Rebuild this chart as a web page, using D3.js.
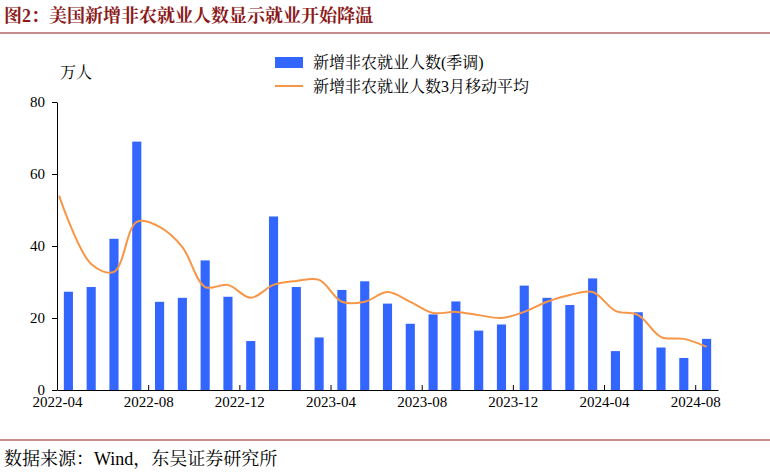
<!DOCTYPE html>
<html><head><meta charset="utf-8">
<script src="https://cdn.jsdelivr.net/npm/d3@7"></script>
<style>body{margin:0;background:#fff}text{font-family:"Liberation Serif","Noto Serif CJK SC","Noto Sans CJK SC",serif}</style>
</head><body><svg id="c" width="770" height="474"></svg>
<script>
var months = ["2022-04","2022-05","2022-06","2022-07","2022-08","2022-09","2022-10","2022-11","2022-12","2023-01","2023-02","2023-03","2023-04","2023-05","2023-06","2023-07","2023-08","2023-09","2023-10","2023-11","2023-12","2024-01","2024-02","2024-03","2024-04","2024-05","2024-06","2024-07","2024-08"];
var payrolls = [27.3,28.6,42,69,24.5,25.6,36,25.9,13.6,48.2,28.6,14.6,27.8,30.2,24,18.4,21,24.6,16.5,18.2,29,25.6,23.6,31,10.8,21.6,11.8,8.9,14.2];
var avg3 = [54,35,32.8,46.7,45.3,39.7,28.6,29.2,25.6,29.2,30.3,30.6,24.5,24.5,27.2,24.5,21.4,21.7,20.8,20,21.7,24.5,26.4,27.2,22,20.8,14.7,14.2,12];
var yTicks = [0,20,40,60,80];
var xTickLabels = ["2022-04","2022-08","2022-12","2023-04","2023-08","2023-12","2024-04","2024-08"];

var svg = d3.select("#c");
var x = d3.scaleBand().domain(months).range([57,718]).paddingInner(0.6).paddingOuter(0.3);
var y = d3.scaleLinear().domain([0,80]).range([390,102]);

svg.append("text").attr("x",4).attr("y",22).attr("font-size",18).attr("font-weight","bold")
  .attr("fill","#8b1a1a").text("图2：美国新增非农就业人数显示就业开始降温");
svg.append("line").attr("x1",0).attr("x2",770).attr("y1",33).attr("y2",33).attr("stroke","#8b1a1a").attr("stroke-width",1);
svg.append("line").attr("x1",0).attr("x2",770).attr("y1",440).attr("y2",440).attr("stroke","#8b1a1a").attr("stroke-width",1);
svg.append("text").attr("x",4).attr("y",465).attr("font-size",18).text("数据来源：Wind，东吴证券研究所");
svg.append("text").attr("x",60).attr("y",78).attr("font-size",16).text("万人");

svg.selectAll("rect.bar").data(payrolls).join("rect").attr("class","bar")
  .attr("x",(d,i)=>x(months[i])).attr("width",x.bandwidth())
  .attr("y",d=>y(d)).attr("height",d=>y(0)-y(d)).attr("fill","#3366ff");

var line = d3.line().x((d,i)=>i === 0 ? 59 : x(months[i])+x.bandwidth()/2).y(d=>y(d)).curve(d3.curveCatmullRom.alpha(0.5));
svg.append("path").datum(avg3).attr("d",line).attr("fill","none").attr("stroke","#f79646").attr("stroke-width",2);

var yAxis = svg.append("g").attr("transform","translate(57,0)")
  .call(d3.axisLeft(y).tickValues(yTicks).tickSize(5).tickSizeOuter(0));
var xs = d3.scaleLinear().domain([0,months.length]).range([57,718]);
var xAxis = svg.append("g").attr("transform","translate(0,390)")
  .call(d3.axisBottom(xs).tickValues(d3.range(0,29,4)).tickFormat(i=>xTickLabels[i/4]).tickSize(5).tickSizeOuter(0));
svg.selectAll(".domain").attr("stroke","#000");
svg.selectAll(".tick text").attr("font-size",15).attr("fill","#000");
yAxis.selectAll(".tick text").attr("dx",-4);
xAxis.selectAll(".tick text").attr("dy",9);
xAxis.selectAll(".tick line").attr("y2",-5);

var lg = svg.append("g");
lg.append("rect").attr("x",275).attr("y",57).attr("width",28).attr("height",11).attr("fill","#3366ff");
lg.append("text").attr("x",313).attr("y",68).attr("font-size",16).text("新增非农就业人数(季调)");
lg.append("line").attr("x1",275).attr("x2",303).attr("y1",86).attr("y2",86).attr("stroke","#f79646").attr("stroke-width",2);
lg.append("text").attr("x",313).attr("y",92).attr("font-size",16).text("新增非农就业人数3月移动平均");
</script></body></html>
